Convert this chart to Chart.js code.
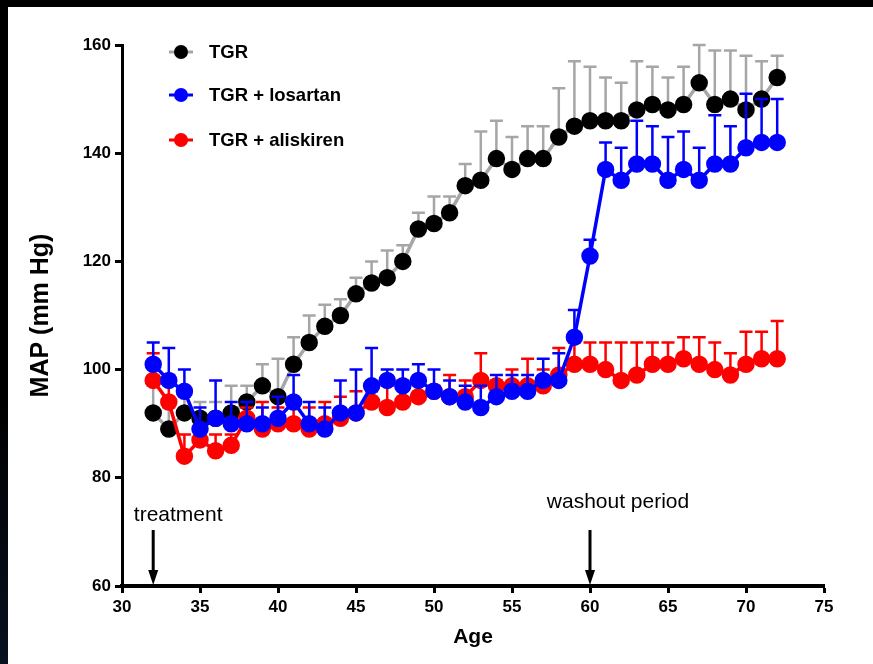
<!DOCTYPE html>
<html>
<head>
<meta charset="utf-8">
<script src="https://cdn.jsdelivr.net/npm/chart.js@4.4.1/dist/chart.umd.min.js"></script>
<style>
  html, body { margin: 0; padding: 0; }
  body {
    width: 873px; height: 664px; overflow: hidden; position: relative;
    background: linear-gradient(180deg, #000 0%, #000 60%, #08111f 100%);
  }
  #panel { position: absolute; left: 8px; top: 7px; width: 865px; height: 657px; background: #fff; }
  #chart { position: absolute; left: 0; top: 0; }
</style>
</head>
<body>
<div id="panel"></div>
<canvas id="chart" width="873" height="664"></canvas>
<script>
// =====================
// Data
// =====================
const ages = [32, 33, 34, 35, 36, 37, 38, 39, 40, 41, 42, 43, 44, 45, 46, 47, 48, 49, 50, 51,
  52, 53, 54, 55, 56, 57, 58, 59, 60, 61, 62, 63, 64, 65, 66, 67, 68, 69, 70, 71, 72];

const tgr = [92, 89, 92, 91, 91, 92, 94, 97, 95, 101, 105, 108, 110, 114, 116, 117, 120, 126, 127, 129,
  134, 135, 139, 137, 139, 139, 143, 145, 146, 146, 146, 148, 149, 148, 149, 153, 149, 150, 148, 150, 154];
const tgrSem = [5, 4, 3, 3, 3, 5, 3, 4, 7, 5, 5, 4, 3, 3, 4, 5, 3, 3, 5, 3,
  4, 9, 7, 6, 6, 6, 9, 12, 10, 8, 7, 9, 7, 6, 7, 7, 10, 9, 10, 7, 4];

const losartan = [101, 98, 96, 89, 91, 90, 90, 90, 91, 94, 90, 89, 92, 92, 97, 98, 97, 98, 96, 95,
  94, 93, 95, 96, 96, 98, 98, 106, 121, 137, 135, 138, 138, 135, 137, 135, 138, 138, 141, 142, 142];
const losartanSem = [4, 6, 4, 4, 7, 4, 4, 3, 4, 5, 4, 4, 6, 8, 7, 2, 3, 3, 4, 3,
  3, 4, 4, 3, 3, 4, 5, 5, 3, 5, 6, 8, 7, 8, 7, 6, 9, 7, 10, 8, 8];

const aliskiren = [98, 94, 84, 87, 85, 86, 91, 89, 90, 90, 89, 90, 91, 92, 94, 93, 94, 95, 96, 95,
  95, 98, 97, 97, 97, 97, 99, 101, 101, 100, 98, 99, 101, 101, 102, 101, 100, 99, 101, 102, 102];
const aliskirenSem = [5, 5, 4, 2, 3, 2, 2, 5, 3, 4, 4, 4, 4, 4, 2, 4, 4, 3, 1, 4,
  3, 5, 1, 3, 5, 3, 5, 4, 4, 5, 7, 6, 4, 4, 4, 5, 5, 4, 6, 5, 7];

const seriesNames = ["TGR", "TGR + losartan", "TGR + aliskiren"];
const yTicks = [60, 80, 100, 120, 140, 160];
const xTicks = [30, 35, 40, 45, 50, 55, 60, 65, 70, 75];

// arrows under the curves
const markerLabels = ["treatment", "washout period"];
const markerAges = [32, 60];

// =====================
// Helpers
// =====================
function toPoints(values) {
  return ages.map((a, i) => ({ x: a, y: values[i] }));
}

const FONT = "'Liberation Sans', Arial, sans-serif";

// upper-only SEM whiskers, drawn just before each dataset so they sit under its own line
const errorBars = {
  id: "errorBars",
  beforeDatasetDraw(chart, args) {
    const ds = chart.data.datasets[args.index];
    const xs = chart.scales.x, ys = chart.scales.y;
    const ctx = chart.ctx;
    ctx.save();
    ctx.strokeStyle = ds.errColor;
    ctx.lineWidth = 2.5;
    ds.data.forEach((p, i) => {
      const px = xs.getPixelForValue(p.x);
      const y0 = ys.getPixelForValue(p.y);
      const y1 = ys.getPixelForValue(p.y + ds.sem[i]);
      ctx.beginPath();
      ctx.moveTo(px, y0);
      ctx.lineTo(px, y1);
      ctx.moveTo(px - 6.5, y1);
      ctx.lineTo(px + 6.5, y1);
      ctx.stroke();
    });
    ctx.restore();
  }
};

// legend: line + dot symbol with bold label, stacked top-left inside the plot
const legendBox = {
  id: "legendBox",
  afterDraw(chart) {
    const ctx = chart.ctx;
    const area = chart.chartArea;
    const rows = [52, 95, 140];
    ctx.save();
    chart.data.datasets.forEach((ds, i) => {
      const y = rows[i];
      const cx = area.left + 59;
      ctx.strokeStyle = ds.borderColor;
      ctx.lineWidth = 3;
      ctx.beginPath();
      ctx.moveTo(cx - 12, y);
      ctx.lineTo(cx + 12, y);
      ctx.stroke();
      ctx.fillStyle = ds.pointBackgroundColor;
      ctx.beginPath();
      ctx.arc(cx, y, 7, 0, Math.PI * 2);
      ctx.fill();
      ctx.fillStyle = "#000";
      ctx.font = "bold 18.5px " + FONT;
      ctx.textBaseline = "middle";
      ctx.textAlign = "left";
      ctx.fillText(seriesNames[i], area.left + 87, y + 1);
    });
    ctx.restore();
  }
};

// treatment / washout arrows pointing down at the x axis
const markers = {
  id: "markers",
  afterDraw(chart) {
    const ctx = chart.ctx;
    const xs = chart.scales.x;
    const bottom = chart.chartArea.bottom;
    const textY = [515, 502];
    const textDx = [25, 28];
    ctx.save();
    markerAges.forEach((age, i) => {
      const px = xs.getPixelForValue(age);
      ctx.strokeStyle = "#000";
      ctx.fillStyle = "#000";
      ctx.lineWidth = 3;
      ctx.beginPath();
      ctx.moveTo(px, 530);
      ctx.lineTo(px, bottom - 12);
      ctx.stroke();
      ctx.beginPath();
      ctx.moveTo(px - 5, bottom - 16);
      ctx.lineTo(px + 5, bottom - 16);
      ctx.lineTo(px, bottom - 1);
      ctx.closePath();
      ctx.fill();
      ctx.font = "21px " + FONT;
      ctx.textAlign = "center";
      ctx.textBaseline = "middle";
      ctx.fillText(markerLabels[i], px + textDx[i], textY[i]);
    });
    ctx.restore();
  }
};

// =====================
// Chart.js
// =====================
const ctx = document.getElementById("chart").getContext("2d");
new Chart(ctx, {
  type: "line",
  data: {
    datasets: [
      {
        label: seriesNames[0],
        data: toPoints(tgr),
        sem: tgrSem,
        errColor: "#a6a6a6",
        borderColor: "#a6a6a6",
        borderWidth: 3.5,
        pointBackgroundColor: "#000",
        pointBorderColor: "#000",
        pointRadius: 7,
        order: 3
      },
      {
        label: seriesNames[1],
        data: toPoints(losartan),
        sem: losartanSem,
        errColor: "#0000ff",
        borderColor: "#0000ff",
        borderWidth: 3.5,
        pointBackgroundColor: "#0000ff",
        pointBorderColor: "#0000ff",
        pointRadius: 7,
        order: 1
      },
      {
        label: seriesNames[2],
        data: toPoints(aliskiren),
        sem: aliskirenSem,
        errColor: "#ff0000",
        borderColor: "#ff0000",
        borderWidth: 3.5,
        pointBackgroundColor: "#ff0000",
        pointBorderColor: "#ff0000",
        pointRadius: 7,
        order: 2
      }
    ]
  },
  options: {
    responsive: false,
    animation: false,
    layout: { padding: { top: 45, right: 49, left: 0, bottom: 0 } },
    plugins: { legend: { display: false }, tooltip: { enabled: false } },
    elements: { line: { tension: 0 }, point: { borderWidth: 0 } },
    scales: {
      x: {
        type: "linear",
        min: 30,
        max: 75,
        afterFit: s => { s.height = 78; },
        afterBuildTicks: s => { s.ticks = xTicks.map(v => ({ value: v })); },
        grid: { drawOnChartArea: false, tickLength: 7, tickWidth: 3, tickColor: "#000" },
        border: { color: "#000", width: 4 },
        ticks: { color: "#000", padding: 4, font: { family: FONT, size: 17, weight: "bold" } },
        title: {
          display: true, text: "Age", color: "#000",
          font: { family: FONT, size: 21, weight: "bold" },
          padding: { top: 0, bottom: 14 }
        }
      },
      y: {
        min: 60,
        max: 160,
        afterFit: s => { s.width = 122; },
        afterBuildTicks: s => { s.ticks = yTicks.map(v => ({ value: v })); },
        grid: { drawOnChartArea: false, tickLength: 7, tickWidth: 3, tickColor: "#000" },
        border: { color: "#000", width: 3 },
        ticks: { color: "#000", padding: 4, font: { family: FONT, size: 17, weight: "bold" } },
        title: {
          display: true, text: "MAP (mm Hg)", color: "#000",
          font: { family: FONT, size: 25, weight: "bold" },
          padding: { top: 26, bottom: 0 }
        }
      }
    }
  },
  plugins: [errorBars, legendBox, markers]
});
</script>
</body>
</html>
